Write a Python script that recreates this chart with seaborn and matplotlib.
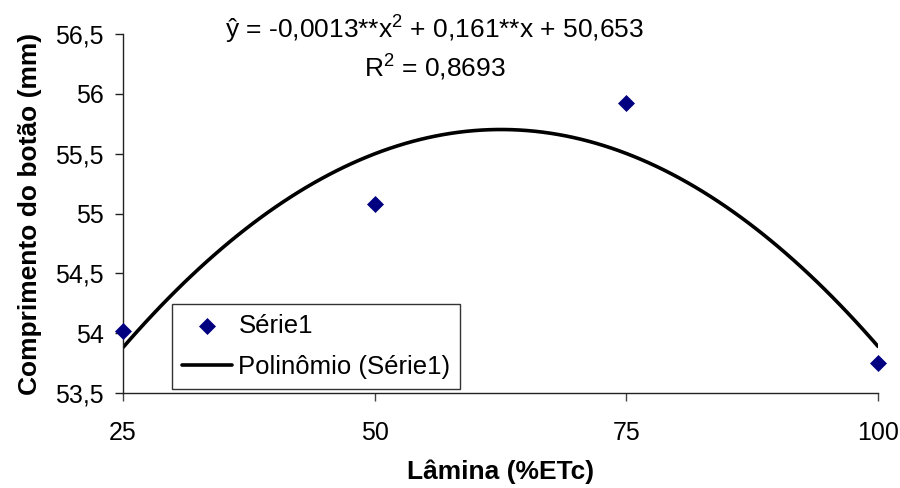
import matplotlib
matplotlib.use("Agg")
import matplotlib.pyplot as plt
import seaborn as sns
import pandas as pd
from matplotlib.ticker import FixedLocator

# Data
lamina = [25, 50, 75, 100]
comprimento = [54.02, 55.08, 55.92, 53.75]
x_ticks = [25, 50, 75, 100]
y_ticks = [53.5, 54.0, 54.5, 55.0, 55.5, 56.0, 56.5]
y_tick_labels = ["53,5", "54", "54,5", "55", "55,5", "56", "56,5"]
series_label = "Série1"
trend_label = "Polinômio (Série1)"
equation = "ŷ = -0,0013**x$^2$ + 0,161**x + 50,653"
r2_text = "R$^2$ = 0,8693"

sns.set_style("white")
plt.rcParams["font.family"] = ["Liberation Sans", "DejaVu Sans"]
plt.rcParams["mathtext.fontset"] = "custom"
plt.rcParams["mathtext.rm"] = "Liberation Sans"
plt.rcParams["mathtext.it"] = "Liberation Sans"
plt.rcParams["text.color"] = "black"
plt.rcParams["axes.labelcolor"] = "black"
plt.rcParams["xtick.color"] = "black"
plt.rcParams["ytick.color"] = "black"

df = pd.DataFrame({"x": lamina, "y": comprimento})

fig = plt.figure(figsize=(9, 4.88), dpi=100)
ax = fig.add_axes([123/900, 1-393/488, (878-123)/900, (393-34)/488])

sns.regplot(data=df, x="x", y="y", order=2, ci=None, scatter=False, ax=ax,
            label=trend_label, line_kws=dict(color="black", lw=2.6))
sns.scatterplot(data=df, x="x", y="y", marker="D", color="#000080", s=75,
                edgecolor="#000080", linewidth=0, ax=ax, label=series_label, zorder=3,
                clip_on=False)

ax.set_xlim(25, 100)
ax.set_ylim(53.5, 56.5)
ax.xaxis.set_major_locator(FixedLocator(x_ticks))
ax.set_yticks(y_ticks)
ax.set_yticklabels(y_tick_labels)

for s in ["top", "right"]:
    ax.spines[s].set_visible(False)
for s in ["left", "bottom"]:
    ax.spines[s].set_color("#222222")
    ax.spines[s].set_linewidth(1.0)

ax.tick_params(axis="y", which="major", direction="out", length=6, width=1,
               color="#222222", labelcolor="black", labelsize=18, pad=8, left=True)
ax.tick_params(axis="x", which="major", direction="out", length=6, width=1,
               color="#444444", labelcolor="black", labelsize=18, pad=14, bottom=True)

ax.set_xlabel("Lâmina (%ETc)", fontsize=19, fontweight="bold", color="black")
ax.set_ylabel("Comprimento do botão (mm)", fontsize=19, fontweight="bold", color="black")
ax.xaxis.set_label_coords(0.5, (393-460)/359)
ax.yaxis.set_label_coords((42-123)/755, 0.5)

ax.text(0.413, 1.011, equation, transform=ax.transAxes, ha="center", va="center",
        fontsize=19, color="black")
ax.text(0.413, 0.905, r2_text, transform=ax.transAxes, ha="center", va="center",
        fontsize=19, color="black")

handles, labels = ax.get_legend_handles_labels()
order = [labels.index(series_label), labels.index(trend_label)]
leg = ax.legend([handles[i] for i in order], [labels[i] for i in order],
                loc="lower left", bbox_to_anchor=(0.065, 0.011), borderaxespad=0,
                fontsize=18.5, frameon=True, fancybox=False, edgecolor="black",
                handlelength=1.95, handletextpad=0.25, borderpad=0.38, labelspacing=0.68)
leg.get_frame().set_linewidth(1.0)
for t in leg.get_texts():
    t.set_color("black")

fig.savefig("out.png", dpi=100)
